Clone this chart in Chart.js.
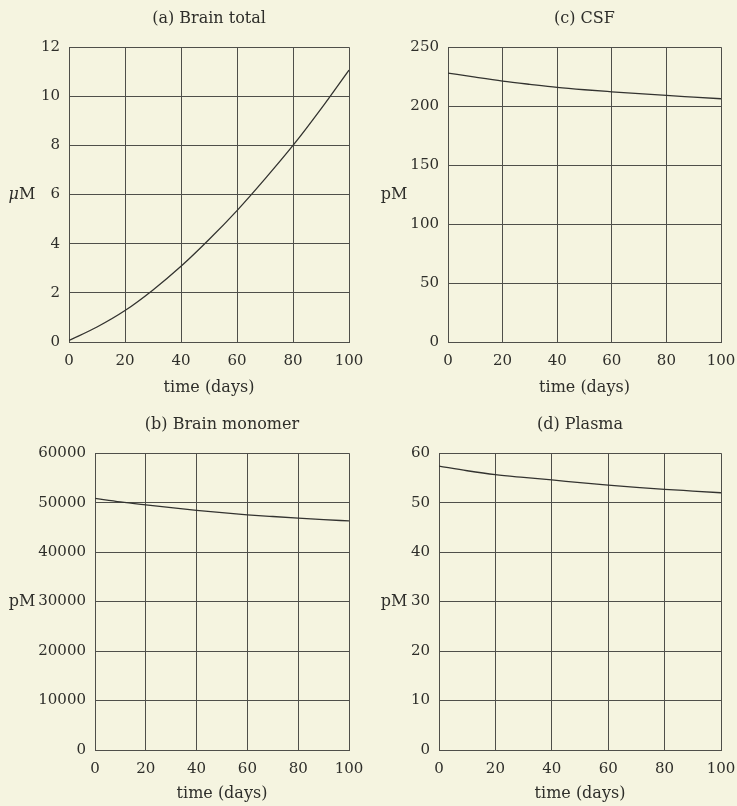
<!DOCTYPE html>
<html>
<head>
<meta charset="utf-8">
<script src="https://cdn.jsdelivr.net/npm/chart.js@4.4.1/dist/chart.umd.min.js"></script>
<style>
  html, body { margin: 0; padding: 0; background: #f5f4e0; }
  body { width: 737px; height: 806px; position: relative; overflow: hidden; }
  .panel { position: absolute; }
</style>
</head>
<body>
<div class="panel" style="left:0;top:0;width:368px;height:400px"><canvas id="brainTotal"></canvas></div>
<div class="panel" style="left:368px;top:0;width:369px;height:400px"><canvas id="csf"></canvas></div>
<div class="panel" style="left:0;top:400px;width:368px;height:406px"><canvas id="brainMonomer"></canvas></div>
<div class="panel" style="left:368px;top:400px;width:369px;height:406px"><canvas id="plasma"></canvas></div>
<script>
// Simulated concentrations over 100 days
const days = [0, 10, 20, 30, 40, 50, 60, 70, 80, 90, 100];
const brainTotalUM = [0.06, 0.61, 1.28, 2.12, 3.08, 4.17, 5.35, 6.64, 8.0, 9.49, 11.07];
const csfPM = [228.1, 224.6, 221.3, 218.5, 215.9, 213.9, 212.2, 210.6, 209.1, 207.7, 206.3];
const brainMonomerPM = [50850, 50150, 49550, 48980, 48450, 47980, 47550, 47200, 46880, 46580, 46300];
const plasmaPM = [57.4, 56.45, 55.65, 55.1, 54.6, 54.05, 53.55, 53.1, 52.7, 52.35, 52.0];

const xTicks = [0, 20, 40, 60, 80, 100];
const brainTotalTicks = [0, 2, 4, 6, 8, 10, 12];
const csfTicks = [0, 50, 100, 150, 200, 250];
const brainMonomerTicks = [0, 10000, 20000, 30000, 40000, 50000, 60000];
const plasmaTicks = [0, 10, 20, 30, 40, 50, 60];

const FONT = "'DejaVu Serif', serif";
const INK = '#2e2e2a';
const GRID = '#4f4f4a';

// Horizontal unit label left of the y axis
const unitLabel = {
  id: 'unitLabel',
  afterDraw(chart, args, opts) {
    const ctx = chart.ctx;
    const a = chart.chartArea;
    const y = (a.top + a.bottom) / 2;
    ctx.save();
    ctx.fillStyle = INK;
    ctx.textBaseline = 'middle';
    const parts = opts.parts;
    let total = 0;
    const widths = parts.map(p => {
      ctx.font = (p.italic ? 'italic ' : '') + '16px ' + FONT;
      const w = ctx.measureText(p.text).width;
      total += w;
      return w;
    });
    let x = opts.x - total / 2;
    ctx.textAlign = 'left';
    parts.forEach((p, i) => {
      ctx.font = (p.italic ? 'italic ' : '') + '16px ' + FONT;
      ctx.fillText(p.text, x, y);
      x += widths[i];
    });
    ctx.restore();
  }
};

function makePanel(id, cfg) {
  const pts = days.map((d, i) => ({ x: d, y: cfg.values[i] }));
  const yMin = cfg.yTicks[0];
  const yMax = cfg.yTicks[cfg.yTicks.length - 1];
  return new Chart(document.getElementById(id), {
    type: 'line',
    data: {
      datasets: [{
        data: pts,
        borderColor: '#333330',
        borderWidth: 1.3,
        pointRadius: 0,
        cubicInterpolationMode: 'monotone',
        fill: false
      }]
    },
    options: {
      responsive: true,
      maintainAspectRatio: false,
      animation: false,
      events: [],
      layout: { padding: { left: 0, right: cfg.padRight, top: 0, bottom: 0 } },
      plugins: {
        legend: { display: false },
        tooltip: { enabled: false },
        title: {
          display: true,
          fullSize: false,
          text: cfg.title,
          color: INK,
          font: { family: FONT, size: 16, weight: 'normal' },
          padding: { top: cfg.titleTop, bottom: cfg.titleBottom }
        },
        unitLabel: { x: cfg.unitX, parts: cfg.unit }
      },
      scales: {
        x: {
          type: 'linear',
          min: 0,
          max: 100,
          afterBuildTicks(scale) { scale.ticks = xTicks.map(v => ({ value: v })); },
          afterFit(scale) {
            scale.height = cfg.xHeight;
            scale.paddingLeft = 0;
            scale.paddingRight = 0;
          },
          ticks: {
            color: INK,
            font: { family: FONT, size: 15 },
            padding: 10,
            maxRotation: 0,
            callback: v => String(v)
          },
          grid: { color: GRID, lineWidth: 1, drawTicks: false },
          border: { color: GRID, width: 1 },
          title: {
            display: true,
            text: 'time (days)',
            color: INK,
            font: { family: FONT, size: 16 },
            padding: { top: 0, bottom: 3 }
          }
        },
        y: {
          type: 'linear',
          min: yMin,
          max: yMax,
          afterBuildTicks(scale) { scale.ticks = cfg.yTicks.map(v => ({ value: v })); },
          afterFit(scale) { scale.width = cfg.yWidth; },
          ticks: {
            color: INK,
            font: { family: FONT, size: 15 },
            padding: 9,
            callback: v => String(v)
          },
          grid: { color: GRID, lineWidth: 1, drawTicks: false },
          border: { color: GRID, width: 1 }
        }
      }
    },
    plugins: [unitLabel]
  });
}

makePanel('brainTotal', {
  title: '(a) Brain total', values: brainTotalUM, yTicks: brainTotalTicks,
  unit: [{ text: 'μ', italic: true }, { text: 'M' }], unitX: 22,
  yWidth: 69, xHeight: 58, padRight: 19, titleTop: 9, titleBottom: 19
});
makePanel('csf', {
  title: '(c) CSF', values: csfPM, yTicks: csfTicks,
  unit: [{ text: 'pM' }], unitX: 26,
  yWidth: 80, xHeight: 58, padRight: 16, titleTop: 9, titleBottom: 19
});
makePanel('brainMonomer', {
  title: '(b) Brain monomer', values: brainMonomerPM, yTicks: brainMonomerTicks,
  unit: [{ text: 'pM' }], unitX: 22,
  yWidth: 95, xHeight: 56, padRight: 19, titleTop: 15, titleBottom: 19
});
makePanel('plasma', {
  title: '(d) Plasma', values: plasmaPM, yTicks: plasmaTicks,
  unit: [{ text: 'pM' }], unitX: 26,
  yWidth: 71, xHeight: 56, padRight: 16, titleTop: 15, titleBottom: 19
});
</script>
</body>
</html>
